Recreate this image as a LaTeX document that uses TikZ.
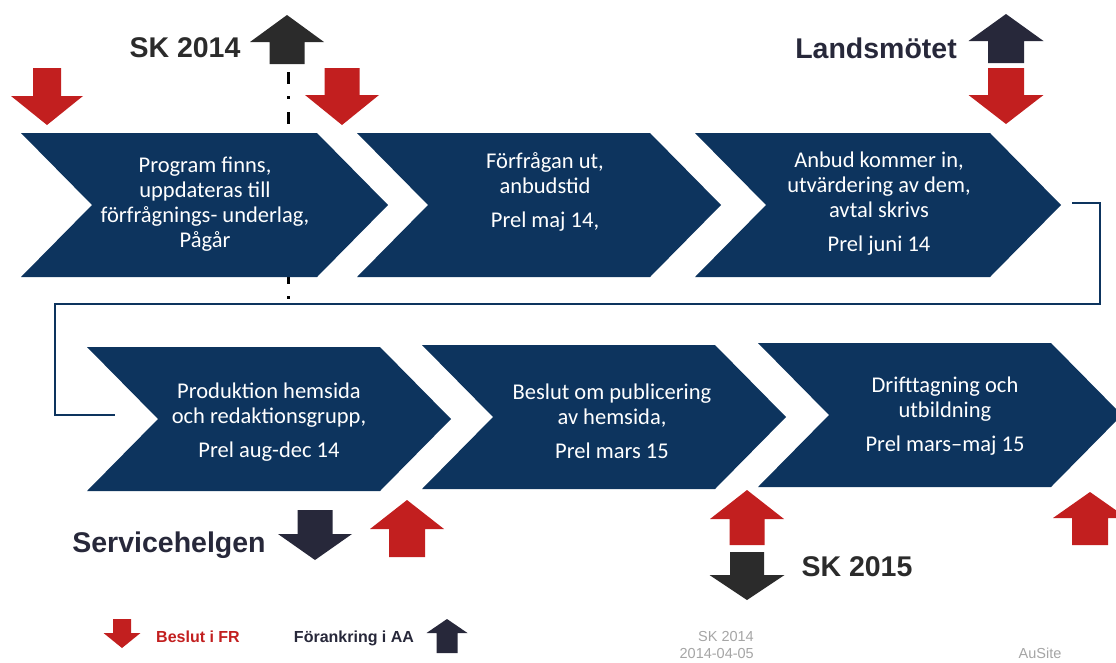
\documentclass[tikz,border=0pt]{standalone}
\usepackage{fontspec}
\newfontfamily\labelfont{Liberation Sans}
\newfontfamily\stepfont{Carlito}
\usetikzlibrary{positioning}
\definecolor{stepblue}{RGB}{13,52,94}
\definecolor{arrowred}{RGB}{194,31,31}
\definecolor{darkgrey}{RGB}{43,43,43}
\definecolor{darknavy}{RGB}{39,40,58}
\definecolor{footgrey}{RGB}{165,165,165}

\begin{document}
\begin{tikzpicture}[x=1pt,y=-1pt,
  steptext/.style={text=white,align=center,
    font=\stepfont\fontsize{22.5}{25}\selectfont},
  bigtag/.style={text=#1,inner sep=0pt,
    font=\labelfont\bfseries\fontsize{28.5}{30}\selectfont},
  legtag/.style={text=#1,inner sep=0pt,
    font=\labelfont\bfseries\fontsize{16}{18}\selectfont},
  foot/.style={text=footgrey,inner sep=0pt,
    font=\labelfont\fontsize{14.5}{16}\selectfont},
  link/.style={draw=stepblue,line width=2.5pt}]
  \clip (0,0) rectangle (1116,662);
  % draw dash-dot marker below SK 2014
  \draw[line width=3pt,dash pattern=on 12pt off 12pt on 3pt off 13pt]
    (288,72) -- (288,306);
  % draw chevrons, top row then bottom row
  \foreach \x/\t/\b/\w in {21/133/277/296,357/133/277/293,695/133/277/295,
                           87/347/491/293,422/345/489/293,758/343/487/293}
    \fill[stepblue] (\x,\t) -- (\x+\w,\t) -- ({\x+\w+71},{(\t+\b)/2})
      -- (\x+\w,\b) -- (\x,\b) -- ({\x+71},{(\t+\b)/2}) -- cycle;
  % draw step texts
  \foreach \x/\y/\txt [count=\i] in {
      205/204/{Program finns,\\uppdateras till\\förfrågnings- underlag,\\Pågår},
      545/192/{Förfrågan ut,\\anbudstid\\[9pt]Prel maj 14,},
      879/204/{Anbud kommer in,\\utvärdering av dem,\\avtal skrivs\\[9pt]Prel juni 14},
      269/422/{Produktion hemsida\\och redaktionsgrupp,\\[9pt]Prel aug-dec 14},
      612/421/{Beslut om publicering\\av hemsida,\\[9pt]Prel mars 15},
      945/416/{Drifttagning och\\utbildning\\[9pt]Prel mars–maj 15}}
    \node[steptext] (s\i) at (\x,\y) {\txt};
  % draw link from first row to second row
  \coordinate (out3) at (1072,203);
  \coordinate (in4) at (115,415);
  \draw[link] (out3) -- ++(28,0) |- (55,304) |- (in4);
  % draw block arrows: centre, tail, barb, tip, shaft and head half widths
  \foreach \cx/\tail/\barb/\tip/\s/\h/\col in {
      47/68/96/125/14/36/arrowred, 342/68/95/125/17.5/37/arrowred,
      287/64/42/15/17.5/37/darkgrey, 1006/63/41/14/18/37.5/darknavy,
      1006/68/95/124/18/37.5/arrowred, 315/510/534/560/17.5/37/darknavy,
      407/557/529/500/18/37/arrowred, 747/545/519/490/17.5/37/arrowred,
      747/552/575/600/17/37.5/darkgrey, 1090/545/518/492/18/37/arrowred,
      122/619/633/648/9/18.5/arrowred, 447/653/633/619/10.5/20.5/darknavy}
    \fill[\col] (\cx-\s,\tail) -- (\cx-\s,\barb) -- (\cx-\h,\barb) -- (\cx,\tip)
      -- (\cx+\h,\barb) -- (\cx+\s,\barb) -- (\cx+\s,\tail) -- cycle;
  % draw meeting labels
  \node[bigtag=darkgrey] (sk14) at (185,48) {SK 2014};
  \node[bigtag=darknavy] (lm) at (876,48) {Landsmötet};
  \node[bigtag=darknavy] (sh) at (169,545) {Servicehelgen};
  \node[bigtag=darkgrey] (sk15) at (857,567) {SK 2015};
  % draw legend
  \node[legtag=arrowred] (fr) at (198,637) {Beslut i FR};
  \node[legtag=darknavy] (aa) at (354,638) {Förankring i AA};
  % draw footer
  \node[foot,anchor=east] (f1) at (754,636) {SK 2014};
  \node[foot,below=7pt of f1.south east,anchor=north east] (f2) {2014-04-05};
  \node[foot] (f3) at (1040,653) {AuSite};
\end{tikzpicture}
\end{document}
